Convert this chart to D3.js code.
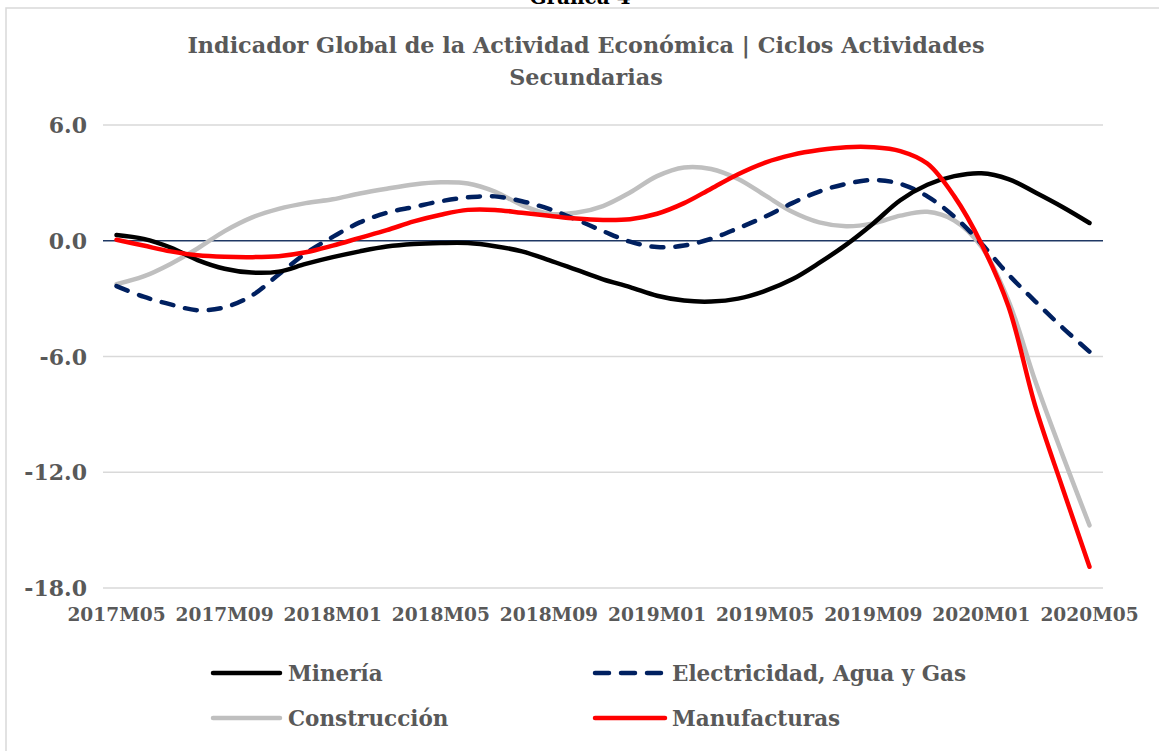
<!DOCTYPE html>
<html>
<head>
<meta charset="utf-8">
<script src="https://cdn.jsdelivr.net/npm/d3@7"></script>
<style>
  body { margin: 0; background: #fff; }
  svg text { font-family: "DejaVu Serif", serif; font-weight: bold; }
</style>
</head>
<body>
<svg id="chart" width="1159" height="751"></svg>
<script>
var months = ["2017M05","2017M06","2017M07","2017M08","2017M09","2017M10","2017M11","2017M12",
  "2018M01","2018M02","2018M03","2018M04","2018M05","2018M06","2018M07","2018M08",
  "2018M09","2018M10","2018M11","2018M12","2019M01","2019M02","2019M03","2019M04",
  "2019M05","2019M06","2019M07","2019M08","2019M09","2019M10","2019M11","2019M12",
  "2020M01","2020M02","2020M03","2020M04","2020M05"];

var mineria = [0.3, 0.1, -0.35, -1.0, -1.45, -1.65, -1.6, -1.2, -0.85, -0.55, -0.3, -0.17,
  -0.12, -0.12, -0.28, -0.55, -1.0, -1.5, -2.0, -2.4, -2.85, -3.1, -3.15, -3.0,
  -2.6, -2.0, -1.15, -0.2, 0.9, 2.1, 2.9, 3.35, 3.5, 3.2, 2.5, 1.75, 0.92];

var electricidad = [-2.35, -2.9, -3.3, -3.6, -3.45, -2.85, -1.75, -0.65, 0.2, 0.95, 1.45, 1.75,
  2.05, 2.25, 2.3, 2.05, 1.65, 1.1, 0.5, -0.05, -0.33, -0.25, 0.1, 0.65,
  1.25, 1.95, 2.55, 2.95, 3.15, 2.95, 2.3, 1.25, -0.15, -1.75, -3.15, -4.5, -5.75];

var construccion = [-2.25, -1.85, -1.2, -0.4, 0.5, 1.2, 1.65, 1.95, 2.15, 2.45, 2.7, 2.92,
  3.03, 2.97, 2.55, 1.85, 1.4, 1.45, 1.8, 2.5, 3.35, 3.8, 3.72, 3.2,
  2.35, 1.5, 0.95, 0.75, 0.9, 1.3, 1.5, 1.05, -0.3, -3.1, -7.3, -11.1, -14.75];

var manufacturas = [0.05, -0.25, -0.55, -0.75, -0.83, -0.85, -0.8, -0.6, -0.25, 0.15, 0.55, 1.0,
  1.35, 1.6, 1.6, 1.45, 1.3, 1.15, 1.08, 1.12, 1.4, 1.95, 2.7, 3.45,
  4.05, 4.45, 4.7, 4.85, 4.85, 4.65, 4.0, 2.3, -0.15, -3.4, -8.6, -12.8, -16.9];

var yTicks = [6, 0, -6, -12, -18];
var xTickLabels = ["2017M05","2017M09","2018M01","2018M05","2018M09","2019M01","2019M05","2019M09","2020M01","2020M05"];

var series = [
  { name: "Minería", values: mineria, color: "#000000", dash: null },
  { name: "Electricidad, Agua y Gas", values: electricidad, color: "#002060", dash: "12,12" },
  { name: "Construcción", values: construccion, color: "#bfbfbf", dash: null },
  { name: "Manufacturas", values: manufacturas, color: "#ff0000", dash: null }
];
// draw order: grey first, then dashed, black, red on top
var drawOrder = [2, 1, 0, 3];

var svg = d3.select("#chart");
var textColor = "#595959";

// chart box
svg.append("rect")
  .attr("x", 6).attr("y", 8)
  .attr("width", 1170).attr("height", 760)
  .attr("fill", "#fff")
  .attr("stroke", "#d9d9d9")
  .attr("stroke-width", 1.5);

// caption above the box (cut by the page top, as in the source)
svg.append("text")
  .attr("x", 580).attr("y", 4)
  .attr("text-anchor", "middle")
  .style("font-size", "20px")
  .attr("fill", "#000")
  .text("Gráfica 4");

var x = d3.scalePoint().domain(months).range([103, 1103]).padding(0.5);
var y = d3.scaleLinear().domain([-18, 6]).range([588, 125]);

// title
var title = svg.append("text")
  .attr("text-anchor", "middle")
  .attr("fill", textColor)
  .style("font-size", "22.3px");
title.append("tspan").attr("x", 586).attr("y", 53)
  .text("Indicador Global de la Actividad Económica | Ciclos Actividades");
title.append("tspan").attr("x", 586).attr("y", 85)
  .text("Secundarias");

// gridlines
svg.append("g").selectAll("line")
  .data(yTicks.filter(function(d) { return d !== 0; }))
  .enter().append("line")
  .attr("x1", 103).attr("x2", 1103)
  .attr("y1", function(d) { return y(d); })
  .attr("y2", function(d) { return y(d); })
  .attr("stroke", "#d9d9d9")
  .attr("stroke-width", 1.5);

// zero line
svg.append("line")
  .attr("x1", 103).attr("x2", 1103)
  .attr("y1", y(0)).attr("y2", y(0))
  .attr("stroke", "#1f3864")
  .attr("stroke-width", 1.5);

// y labels
svg.append("g").selectAll("text")
  .data(yTicks)
  .enter().append("text")
  .attr("x", 87)
  .attr("y", function(d) { return y(d) + 8; })
  .attr("text-anchor", "end")
  .attr("fill", textColor)
  .style("font-size", "22px")
  .text(function(d) { return d3.format(".1f")(d).replace("−", "-"); });

// x labels
svg.append("g").selectAll("text")
  .data(xTickLabels)
  .enter().append("text")
  .attr("x", function(d) { return x(d); })
  .attr("y", 621)
  .attr("text-anchor", "middle")
  .attr("fill", textColor)
  .style("font-size", "18.6px")
  .text(function(d) { return d; });

var line = d3.line()
  .x(function(d, i) { return x(months[i]); })
  .y(function(d) { return y(d); })
  .curve(d3.curveCatmullRom.alpha(0.5));

drawOrder.forEach(function(k) {
  var s = series[k];
  svg.append("path")
    .datum(s.values)
    .attr("d", line)
    .attr("fill", "none")
    .attr("stroke", s.color)
    .attr("stroke-width", 4.5)
    .attr("stroke-linecap", "round")
    .attr("stroke-linejoin", "round")
    .attr("stroke-dasharray", s.dash);
});

// legend
var legendPos = [
  { lx: 213, tx: 288, y: 673 },
  { lx: 595, tx: 672, y: 673 },
  { lx: 213, tx: 288, y: 718 },
  { lx: 595, tx: 672, y: 718 }
];
series.forEach(function(s, i) {
  var p = legendPos[i];
  svg.append("line")
    .attr("x1", p.lx).attr("x2", p.lx + (i % 2 ? 70 : 67))
    .attr("y1", p.y).attr("y2", p.y)
    .attr("stroke", s.color)
    .attr("stroke-width", 4.5)
    .attr("stroke-linecap", "round")
    .attr("stroke-dasharray", s.dash ? "14,12" : null);
  svg.append("text")
    .attr("x", p.tx).attr("y", p.y + 8)
    .attr("fill", textColor)
    .style("font-size", "21.5px")
    .text(s.name);
});
</script>
</body>
</html>
